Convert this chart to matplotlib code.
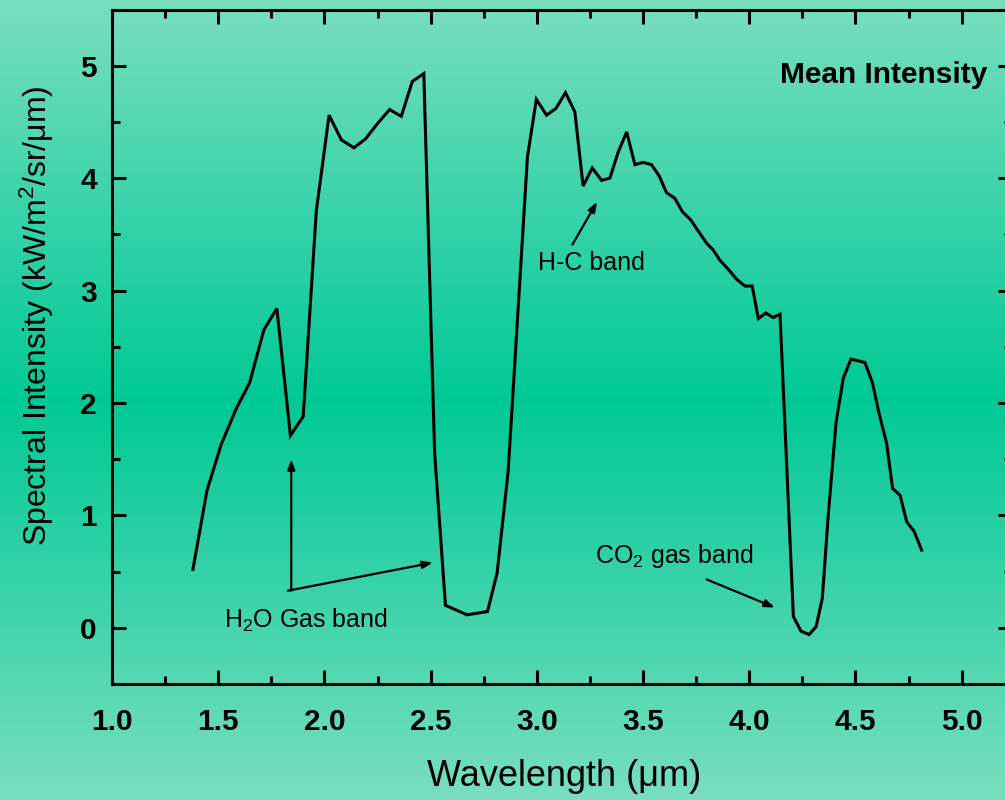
import numpy as np
import matplotlib
matplotlib.use("Agg")
import matplotlib.pyplot as plt
from matplotlib.ticker import MultipleLocator, FormatStrFormatter

plt.rcParams['font.family'] = ['Liberation Sans', 'DejaVu Sans']
plt.rcParams['mathtext.fontset'] = 'custom'
plt.rcParams['mathtext.rm'] = 'Liberation Sans'
plt.rcParams['mathtext.it'] = 'Liberation Sans:italic'
plt.rcParams['mathtext.bf'] = 'Liberation Sans:bold'

# ---- data ----
wavelength = [1.381, 1.447, 1.514, 1.585, 1.648, 1.715, 1.776, 1.840, 1.900, 1.962,
              2.022, 2.080, 2.139, 2.194, 2.252, 2.307, 2.362, 2.414, 2.468, 2.519,
              2.570, 2.672, 2.768, 2.813, 2.865, 2.956, 2.998, 3.046, 3.090, 3.135,
              3.179, 3.218, 3.261, 3.305, 3.344, 3.383, 3.423, 3.462, 3.501, 3.540,
              3.576, 3.611, 3.650, 3.686, 3.724, 3.760, 3.800, 3.831, 3.862, 3.901,
              3.941, 3.980, 4.014, 4.043, 4.078, 4.113, 4.145, 4.208, 4.244, 4.282,
              4.315, 4.344, 4.373, 4.409, 4.443, 4.479, 4.545, 4.580, 4.611, 4.647,
              4.675, 4.710, 4.742, 4.776, 4.812]
intensity = [0.52, 1.22, 1.63, 1.95, 2.18, 2.65, 2.84, 1.71, 1.88, 3.71,
             4.56, 4.34, 4.27, 4.35, 4.49, 4.61, 4.55, 4.86, 4.93, 1.55,
             0.20, 0.115, 0.145, 0.486, 1.39, 4.19, 4.70, 4.56, 4.62, 4.76,
             4.59, 3.93, 4.09, 3.98, 4.00, 4.23, 4.41, 4.12, 4.14, 4.12,
             4.02, 3.87, 3.82, 3.70, 3.63, 3.53, 3.42, 3.36, 3.27, 3.19,
             3.10, 3.04, 3.04, 2.75, 2.80, 2.76, 2.79, 0.10, -0.03, -0.06,
             0.01, 0.26, 1.02, 1.83, 2.22, 2.39, 2.36, 2.18, 1.91, 1.64,
             1.24, 1.18, 0.94, 0.86, 0.69]

title_text = "Mean Intensity"
xlabel_text = "Wavelength (μm)"
ylabel_text = "Spectral Intensity (kW/m$^2$/sr/μm)"
hc_label = "H-C band"
h2o_label = "H$_2$O Gas band"
co2_label = "CO$_2$ gas band"

# ---- figure ----
W, H = 1005, 800
fig = plt.figure(figsize=(W / 100, H / 100), dpi=100)

# gradient background
bg = fig.add_axes([0, 0, 1, 1], zorder=-10)
top = np.array([0.475, 0.871, 0.753])
mid = np.array([0.0, 0.788, 0.584])
t = np.linspace(0, 1, 400)
w = np.abs(t - 0.5) * 2
grad = mid[None, :] * (1 - w[:, None]) + top[None, :] * w[:, None]
bg.imshow(grad[:, None, :], aspect='auto', extent=[0, 1, 0, 1])
bg.set_axis_off()

# axes extends slightly past the right edge of the figure (as in the reference)
px_per_unit = 212.4
left_px, right_px = 112, 1012
left, right = left_px / W, right_px / W
bottom, topp = 1 - 684 / H, 1 - 9.5 / H
ax = fig.add_axes([left, bottom, right - left, topp - bottom])
ax.patch.set_alpha(0)

ax.plot(wavelength, intensity, color='black', lw=2.2, solid_joinstyle='miter')

ax.set_xlim(1.0, 1.0 + (right_px - left_px) / px_per_unit)
ax.set_ylim(-0.5, 5.5)
ax.xaxis.set_major_locator(MultipleLocator(0.5))
ax.xaxis.set_minor_locator(MultipleLocator(0.25))
ax.yaxis.set_major_locator(MultipleLocator(1))
ax.yaxis.set_minor_locator(MultipleLocator(0.5))
ax.xaxis.set_major_formatter(FormatStrFormatter('%.1f'))
ax.yaxis.set_major_formatter(FormatStrFormatter('%d'))

ax.tick_params(which='both', direction='in', top=True, right=True, width=2.2)
ax.tick_params(which='major', length=10)
ax.tick_params(which='minor', length=6)
ax.tick_params(axis='x', which='major', pad=17, labelsize=21.5)
ax.tick_params(axis='y', which='major', pad=11, labelsize=21.5)
for lab in ax.get_xticklabels() + ax.get_yticklabels():
    lab.set_fontweight('bold')
for sp in ax.spines.values():
    sp.set_linewidth(2.2)

fig.text(564 / W, 1 - 777 / H, xlabel_text, ha='center', va='center', fontsize=26)
fig.text(37 / W, 1 - 316 / H, ylabel_text, ha='center', va='center',
         rotation=90, fontsize=23)

ax.text(5.12, 4.843, title_text, ha='right', va='baseline', fontsize=21.5,
        fontweight='bold')

arrow = dict(arrowstyle='-|>,head_length=0.6,head_width=0.22', color='black',
             lw=1.6, shrinkA=0, shrinkB=0)

ax.text(3.005, 3.18, hc_label, ha='left', va='baseline', fontsize=18)
ax.annotate('', xy=(3.284, 3.79), xytext=(3.168, 3.41), arrowprops=arrow)

ax.text(1.525, 0.0, h2o_label, ha='left', va='baseline', fontsize=18)
ax.annotate('', xy=(1.844, 1.50), xytext=(1.844, 0.33), arrowprops=arrow)
ax.annotate('', xy=(2.511, 0.58), xytext=(1.828, 0.33), arrowprops=arrow)

ax.text(3.273, 0.577, co2_label, ha='left', va='baseline', fontsize=18)
ax.annotate('', xy=(4.121, 0.18), xytext=(3.80, 0.43), arrowprops=arrow)

fig.savefig('out.png', dpi=100)
